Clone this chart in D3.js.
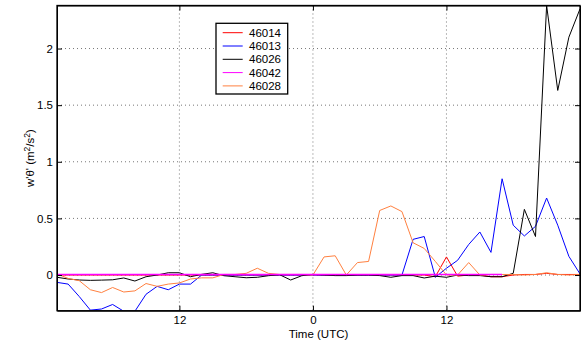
<!DOCTYPE html>
<html>
<head>
<meta charset="utf-8">
<script src="https://cdn.jsdelivr.net/npm/d3@7"></script>
<style>
  body { margin: 0; background: #fff; }
  svg text { font-family: "Liberation Sans", Arial, sans-serif; font-size: 11.5px; fill: #000; }
</style>
</head>
<body>
<div class="content"></div>
<script>
// hours since start of first day (1..48)
const hours = d3.range(1, 49);

const stations = ['46014', '46013', '46026', '46042', '46028'];
const colors = ['#ff0000', '#0000ff', '#000000', '#ff00ff', '#ff8040'];

const s46014 = [0, 0, 0, 0, 0, 0, 0, 0, 0, 0, 0, 0, 0, 0, 0, 0, 0, 0, 0, 0, 0, 0, 0, 0,
                0, 0, 0, 0, 0, 0, 0, 0, 0, 0, -0.015, 0.16, -0.01, 0, 0, -0.015, -0.015, 0,
                0.005, 0.005, 0.015, 0.005, 0.005, 0.005];
const s46013 = [-0.065, -0.08, -0.19, -0.31, -0.30, -0.26, -0.32, -0.32, -0.17, -0.10, -0.13, -0.08,
                -0.08, 0, 0, 0, 0, 0, 0, 0, 0, 0, 0, 0,
                0, 0, 0, 0, 0, 0, 0, 0, 0.315, 0.34, -0.02, 0.06,
                0.13, 0.27, 0.38, 0.2, 0.85, 0.44, 0.345, 0.43, 0.68, 0.44, 0.165, 0.01];
const s46026 = [-0.02, -0.035, -0.044, -0.047, -0.045, -0.042, -0.026, -0.053, -0.015, 0, 0.02, 0.02,
                -0.015, 0.006, 0.02, -0.006, -0.015, -0.024, -0.02, -0.006, 0.003, -0.044, -0.006, 0.006,
                0, -0.005, -0.005, 0, 0, -0.005, -0.02, -0.005, -0.005, -0.026, -0.01, -0.02,
                0, -0.005, -0.005, -0.015, -0.015, 0.015, 0.58, 0.34, 2.38, 1.63, 2.10, 2.35];
const s46042 = [0.005, 0.005, 0.005, 0.005, 0.005, 0.005, 0.005, 0.005, 0.005, 0.005, 0.005, 0.005,
                0.005, 0.005, 0.005, 0.005, 0.005, 0.005, 0.005, 0.005, 0.005, 0.005, 0.005, 0.005,
                0.005, 0.005, 0.005, 0.005, 0.005, 0.005, 0.005, 0.005, 0.005, 0.005, 0.005, 0.005,
                0.005, 0.005, 0.005, 0.005, 0.005, null, null, null, null, null, null, null];
const s46028 = [0.01, -0.03, -0.05, -0.13, -0.155, -0.11, -0.15, -0.14, -0.075, -0.10, -0.08, -0.07,
                -0.035, -0.025, -0.025, 0.005, 0.005, 0.015, 0.06, 0.015, 0.005, 0.005, 0.005, 0,
                0.16, 0.17, 0, 0.11, 0.12, 0.57, 0.61, 0.56, 0.285, 0.235, 0.12, 0,
                0, 0.11, 0, 0.005, 0.005, 0.005, 0, 0.005, 0.02, 0.005, 0, 0.005];

const xTicks = [12, 24, 36];
const xTickLabels = ['12', '0', '12'];
const yTicks = [0, 0.5, 1, 1.5, 2];

const series = [s46014, s46013, s46026, s46042, s46028];
// magenta drawn last so the zero line reads magenta
const drawOrder = [0, 1, 2, 4, 3];

const setUpChart = () => {
  const width = 581, height = 346;
  const left = 57, top = 5.5, right = 580, bottom = 310.7;

  const svg = d3.select('div.content')
                .append('svg')
                .attr('width', width)
                .attr('height', height);

  const xScale = d3.scaleLinear().domain([1, 48]).range([left, right]);
  const yScale = d3.scaleLinear().domain([-0.315, 2.38]).range([bottom, top]);

  svg.append('defs').append('clipPath')
     .attr('id', 'plot')
     .append('rect')
     .attr('x', left).attr('y', top)
     .attr('width', right - left).attr('height', bottom - top);

  // dotted grid
  svg.selectAll('line.gx')
     .data(xTicks)
     .enter()
     .append('line')
     .attr('x1', d => xScale(d)).attr('x2', d => xScale(d))
     .attr('y1', top).attr('y2', bottom)
     .attr('stroke', '#777').attr('stroke-dasharray', '1,3');
  svg.selectAll('line.gy')
     .data(yTicks)
     .enter()
     .append('line')
     .attr('x1', left).attr('x2', right)
     .attr('y1', d => yScale(d)).attr('y2', d => yScale(d))
     .attr('stroke', '#777').attr('stroke-dasharray', '1,3');

  const line = d3.line()
                 .defined(d => d[1] !== null)
                 .x(d => xScale(d[0]))
                 .y(d => yScale(d[1]));

  drawOrder.forEach((i) => {
    svg.append('path')
       .datum(hours.map((h, j) => [h, series[i][j]]))
       .attr('clip-path', 'url(#plot)')
       .attr('fill', 'none')
       .attr('stroke', colors[i])
       .attr('stroke-width', i === 3 ? 1.5 : 1)
       .attr('d', line);
  });

  // axes, boxed, ticks pointing in
  const xAxis = d3.axisBottom(xScale).tickValues(xTicks)
                  .tickFormat((d, i) => xTickLabels[i])
                  .tickSizeInner(-5).tickSizeOuter(0).tickPadding(5);
  const xTop = d3.axisTop(xScale).tickValues(xTicks).tickFormat('')
                 .tickSizeInner(-5).tickSizeOuter(0);
  const yAxis = d3.axisLeft(yScale).tickValues(yTicks)
                  .tickFormat(d3.format('~g'))
                  .tickSizeInner(-5).tickSizeOuter(0).tickPadding(4);
  const yRight = d3.axisRight(yScale).tickValues(yTicks).tickFormat('')
                   .tickSizeInner(-5).tickSizeOuter(0);

  svg.append('g').attr('transform', `translate(0, ${bottom})`).call(xAxis);
  svg.append('g').attr('transform', `translate(0, ${top})`).call(xTop);
  svg.append('g').attr('transform', `translate(${left}, 0)`).call(yAxis);
  svg.append('g').attr('transform', `translate(${right}, 0)`).call(yRight);

  svg.selectAll('.domain, .tick line').attr('stroke', '#000');
  svg.selectAll('.tick text').attr('font-size', '11.5px')
     .attr('font-family', '"Liberation Sans", Arial, sans-serif');
  svg.append('rect')
     .attr('x', left).attr('y', top)
     .attr('width', right - left).attr('height', bottom - top)
     .attr('fill', 'none').attr('stroke', '#000').attr('stroke-width', 1.3);

  svg.append('text')
     .attr('x', (left + right) / 2).attr('y', 338)
     .attr('text-anchor', 'middle')
     .text('Time (UTC)');

  const yl = svg.append('text')
                .attr('transform', `translate(34, ${(top + bottom) / 2}) rotate(-90)`)
                .attr('text-anchor', 'middle');
  yl.append('tspan').text('w\'θ\' (m');
  yl.append('tspan').attr('dy', -4).attr('font-size', '8.5px').text('2');
  yl.append('tspan').attr('dy', 4).text('/s');
  yl.append('tspan').attr('dy', -4).attr('font-size', '8.5px').text('2');
  yl.append('tspan').attr('dy', 4).text(')');

  // legend
  const lg = svg.append('g').attr('transform', 'translate(216, 23.3)');
  lg.append('rect')
    .attr('width', 71.7).attr('height', 70.7)
    .attr('fill', '#fff').attr('stroke', '#000').attr('stroke-width', 1.3);
  stations.forEach((s, i) => {
    const y = 9.4 + i * 13.3;
    lg.append('line')
      .attr('x1', 6.7).attr('x2', 26.7).attr('y1', y).attr('y2', y)
      .attr('stroke', colors[i]);
    lg.append('text')
      .attr('x', 33).attr('y', y + 4.2)
      .text(s);
  });
};

setUpChart();
</script>
</body>
</html>
